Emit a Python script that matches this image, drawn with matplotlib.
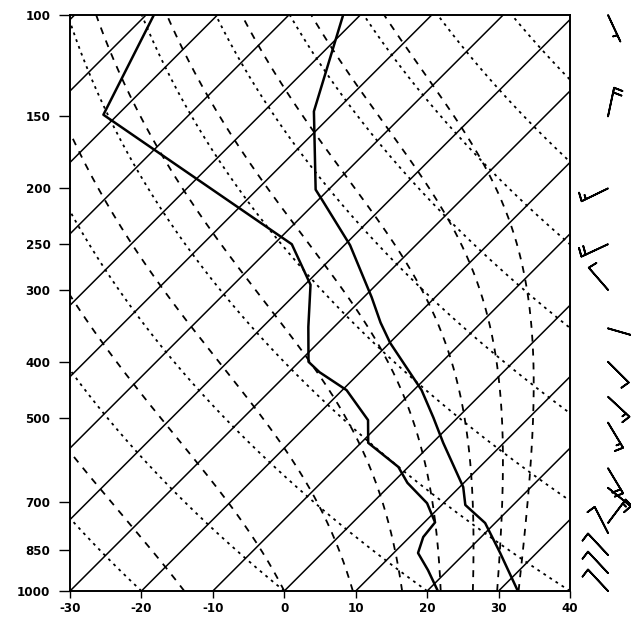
import numpy as np
import matplotlib
matplotlib.use("Agg")
import matplotlib.pyplot as plt

plt.rcParams['lines.scale_dashes'] = False

p_temp = [1000, 859, 762, 709, 660, 553, 500, 448, 371, 342, 309, 251, 210, 201, 147, 100]
t_temp = [32.7, 24.9, 18.6, 13.3, 10.5, 1.5, -3.4, -8.9, -19.9, -24.1, -28.9, -39.2, -49.3, -51.8, -63.0, -72.4]

p_dew = [1000, 920, 859, 806, 760, 704, 649, 609, 553, 505, 448, 417, 400, 348, 294, 250, 149, 100]
t_dew = [21.5, 17.2, 13.4, 11.9, 11.5, 7.7, 2.1, -1.4, -9.0, -12.2, -19.4, -25.7, -28.7, -33.6, -39.2, -47.5, -92.0, -98.9]

# wind barbs: pressure, direction (deg, from), speed (kt)
p_wind = [100, 150, 200, 250, 300, 350, 400, 460, 510, 612, 662, 762, 793, 866, 931, 1000]
dir_wind = [155, 12, 244, 245, 319, 106, 135, 133, 149, 149, 129, 37, 333, 317, 317, 317]
spd_wind = [5, 20, 15, 20, 10, 10, 10, 15, 15, 20, 10, 15, 10, 10, 10, 10]
flip_wind = [False] * 12 + [True] * 4

# background reference lines
isotherms = list(range(-120, 50, 10))
theta_dry_c = [-20, 0, 20, 40, 60, 80, 100, 120, 140, 160, 180]   # T at 1000 hPa
moist_t0 = [-14, 0, 9.6, 16.5, 21.9, 26.4, 29.8, 32.8]            # T at 1000 hPa

p_ticks = [100, 150, 200, 250, 300, 400, 500, 700, 850, 1000]
t_ticks = [-30, -20, -10, 0, 10, 20, 30, 40]

# ---------------- figure ----------------
W, H = 631, 619
fig = plt.figure(figsize=(W / 100, H / 100), dpi=100)
L, R, T, B = 70, 570, 15, 591
ax = fig.add_axes([L / W, (H - B) / H, (R - L) / W, (B - T) / H])
ax.set_yscale('log')
ax.set_xlim(-30, 40)
ax.set_ylim(1000, 100)

S = 70.0 * (B - T) / (R - L)  # skew so isotherms are at 45 degrees


def skx(t, p):
    return np.asarray(t) + S * np.log10(1000.0 / np.asarray(p))


pp = np.logspace(3, 2, 600)

# isotherms
for t in isotherms:
    ax.plot(skx(np.full_like(pp, t), pp), pp, color='black', lw=1.1, solid_capstyle='butt')

# dry adiabats
for t0 in theta_dry_c:
    th = t0 + 273.15
    tt = th * (pp / 1000.0) ** 0.2857 - 273.15
    ax.plot(skx(tt, pp), pp, color='black', lw=1.3, linestyle=(0, (2.0, 3.2)))


# moist adiabats (lines of constant equivalent potential temperature)
def theta_e(Tk, P):
    Tc = Tk - 273.15
    es = 6.112 * np.exp(17.67 * Tc / (Tc + 243.5))
    rs = 0.622 * es / (P - es)
    return Tk * (1000.0 / P) ** 0.2857 * np.exp(2.5e6 * rs / (1004.0 * Tk))


def moist(t0c, p):
    te0 = theta_e(t0c + 273.15, 1000.0)
    lo = np.full_like(p, 120.0)
    hi = np.full_like(p, 330.0)
    for _ in range(60):
        mid = 0.5 * (lo + hi)
        big = theta_e(mid, p) > te0
        hi = np.where(big, mid, hi)
        lo = np.where(big, lo, mid)
    return 0.5 * (lo + hi) - 273.15


for t0 in moist_t0:
    tt = moist(t0, pp)
    ax.plot(skx(tt, pp), pp, color='black', lw=1.3, linestyle=(0, (5.0, 5.0)))

# profiles
ax.plot(skx(t_temp, p_temp), p_temp, color='black', lw=1.8, zorder=5)
ax.plot(skx(t_dew, p_dew), p_dew, color='black', lw=1.8, zorder=5)

# wind barbs
d = np.deg2rad(dir_wind)
u = -np.array(spd_wind) * np.sin(d)
v = -np.array(spd_wind) * np.cos(d)
xb = np.full(len(p_wind), -30 + (608 - L) * 70.0 / (R - L))
ax.barbs(xb, p_wind, u, v, length=6.5, linewidth=1.3, clip_on=False, color='black',
         flip_barb=np.array(flip_wind),
         sizes=dict(spacing=0.16, height=0.3, width=-0.1))

# axes styling
ax.set_yticks(p_ticks)
ax.set_yticklabels([str(p) for p in p_ticks])
ax.yaxis.set_minor_locator(matplotlib.ticker.NullLocator())
ax.yaxis.set_minor_formatter(matplotlib.ticker.NullFormatter())
ax.set_xticks(t_ticks)
ax.set_xticklabels([str(t) for t in t_ticks])
for lab in ax.get_xticklabels() + ax.get_yticklabels():
    lab.set_fontweight('bold')
    lab.set_fontsize(8.6)
    lab.set_fontfamily('DejaVu Sans')
ax.tick_params(axis='y', direction='out', length=8, width=1, pad=6)
ax.tick_params(axis='x', direction='out', length=5, width=1, pad=3)
for sp in ax.spines.values():
    sp.set_linewidth(1.4)

fig.savefig('out.png', dpi=100)
